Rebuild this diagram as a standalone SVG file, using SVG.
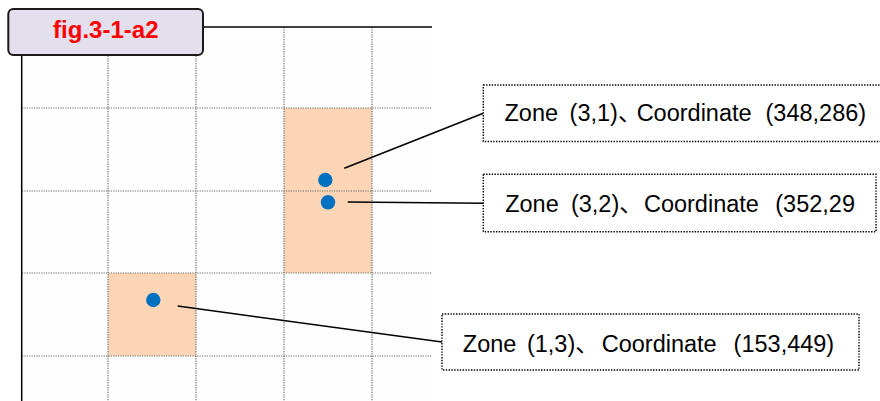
<svg xmlns="http://www.w3.org/2000/svg" width="880" height="401" viewBox="0 0 880 401">
<style>
.grid{stroke:#6a6a6a;stroke-width:1.2;stroke-dasharray:1.2 1.2;fill:none}
.frame{stroke:#000;stroke-width:1.5;fill:none}
.zone{fill:#FBD5B5}
.dot{fill:#0070C0}
.conn{stroke:#000;stroke-width:1.5;fill:none}
.box{fill:#fff;stroke:#000;stroke-width:1.4;stroke-dasharray:1.4 1.4}
.lbl{font-family:"Liberation Sans",Arial,"Noto Sans CJK JP",sans-serif;font-size:23.5px;fill:#000}
.title{font-family:"Liberation Sans",Arial,sans-serif;font-size:24px;font-weight:bold;fill:#FF0000}
</style>
<rect width="880" height="401" fill="#fff"/>
<g id="plot">
<rect x="22" y="27" width="410" height="374" fill="#FDFDFD"/>
<rect class="zone" x="284" y="108" width="88" height="165"/>
<rect class="zone" x="108" y="273" width="88" height="83"/>
<g class="grid">
<line x1="108" y1="27" x2="108" y2="401"/>
<line x1="196" y1="27" x2="196" y2="401"/>
<line x1="284" y1="27" x2="284" y2="401"/>
<line x1="372" y1="27" x2="372" y2="401"/>
<line x1="22" y1="108" x2="432" y2="108"/>
<line x1="22" y1="191" x2="432" y2="191"/>
<line x1="22" y1="273" x2="432" y2="273"/>
<line x1="22" y1="356" x2="432" y2="356"/>
</g>
<line class="frame" x1="204" y1="27" x2="432" y2="27"/>
<line class="frame" x1="21.7" y1="56" x2="21.7" y2="401"/>
<circle class="dot" cx="325.3" cy="180" r="7.2"/>
<circle class="dot" cx="328" cy="202.3" r="7.2"/>
<circle class="dot" cx="153.3" cy="300" r="7.2"/>
</g>
<g id="title">
<rect x="8.3" y="9" width="194.7" height="46" rx="5" ry="5" fill="#E4DFEC" stroke="#1a1a1a" stroke-width="2"/>
<text class="title" x="105.8" y="38.3" text-anchor="middle">fig.3-1-a2</text>
</g>
<g id="connectors">
<line class="conn" x1="344.3" y1="168.3" x2="483.3" y2="113.3"/>
<line class="conn" x1="347.7" y1="202" x2="483.3" y2="203.3"/>
<line class="conn" x1="177.7" y1="306" x2="442" y2="342"/>
</g>
<g id="label1">
<rect class="box" x="483.3" y="85" width="410" height="56.5"/>
<text class="lbl" y="121"><tspan x="504.5">Zone</tspan> <tspan x="569.6">(3,1)</tspan><tspan style="letter-spacing:-4.8px">、</tspan><tspan>Coordinate</tspan> <tspan x="765.5">(348,286)</tspan></text>
</g>
<g id="label2">
<rect class="box" x="483.3" y="174.3" width="392.7" height="57.4"/>
<text class="lbl" y="211.7"><tspan x="505.2">Zone</tspan> <tspan x="570.9">(3,2)</tspan><tspan style="letter-spacing:1.2px">、</tspan><tspan>Coordinate</tspan> <tspan x="775.3">(352,29</tspan></text>
</g>
<g id="label3">
<rect class="box" x="442" y="314" width="417" height="56"/>
<text class="lbl" y="351.7"><tspan x="462.8">Zone</tspan> <tspan x="526.9">(1,3)</tspan><tspan style="letter-spacing:3px">、</tspan><tspan>Coordinate</tspan> <tspan x="733.6">(153,449)</tspan></text>
</g>
</svg>
